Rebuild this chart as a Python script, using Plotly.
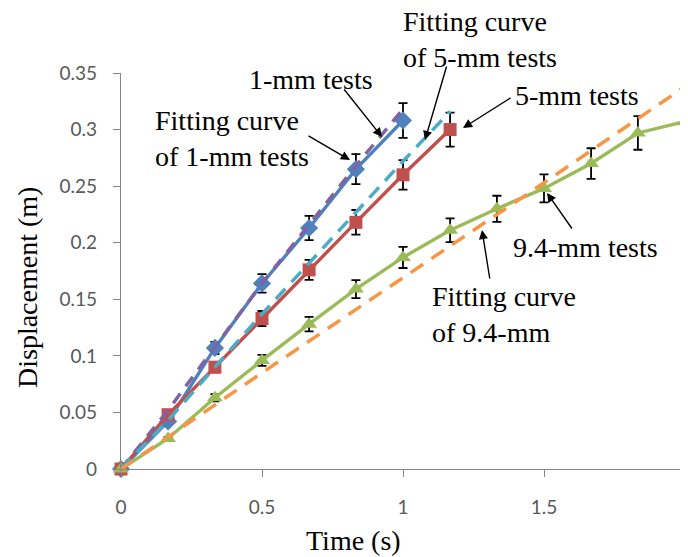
import plotly.graph_objects as go

# ---- data ----
t_1mm = [0, 0.167, 0.333, 0.5, 0.667, 0.833, 1.0]
d_1mm = [0, 0.042, 0.107, 0.164, 0.213, 0.265, 0.308]

t_5mm = [0, 0.167, 0.333, 0.5, 0.667, 0.833, 1.0, 1.167]
d_5mm = [0, 0.048, 0.090, 0.133, 0.176, 0.218, 0.260, 0.300]

t_94mm = [0, 0.167, 0.333, 0.5, 0.667, 0.833, 1.0, 1.167, 1.333, 1.5, 1.667, 1.833, 2.0]
d_94mm = [0, 0.027, 0.063, 0.096, 0.128, 0.159, 0.187, 0.211, 0.230, 0.248, 0.270, 0.297, 0.307]

fit_t_1mm = [0, 0.167, 0.333, 0.5, 0.667, 0.833, 1.0]
fit_d_1mm = [0, 0.052, 0.108, 0.164, 0.216, 0.268, 0.318]

fit_t_5mm = [0, 0.167, 0.333, 0.5, 0.667, 0.833, 1.0, 1.167]
fit_d_5mm = [0, 0.043, 0.090, 0.137, 0.182, 0.227, 0.272, 0.316]

fit_t_94mm = [0, 0.5, 1.0, 1.5, 2.0]
fit_d_94mm = [0, 0.085, 0.169, 0.253, 0.338]

err_percent = 5

x_ticks = [0, 0.5, 1, 1.5, 2]
x_tick_text = ["0", "0.5", "1", "1.5", "2"]
y_ticks = [0, 0.05, 0.1, 0.15, 0.2, 0.25, 0.3, 0.35]
y_tick_text = ["0", "0.05", "0.1", "0.15", "0.2", "0.25", "0.3", "0.35"]

BLUE, RED, GREEN = "#4F81BD", "#C0504D", "#9BBB59"
PURPLE, CYAN, ORANGE = "#8064A2", "#4BACC6", "#F79646"

err = dict(type="percent", value=err_percent, color="black", thickness=1.8, width=4.5)

fig = go.Figure()
fig.add_trace(go.Scatter(x=t_1mm, y=d_1mm, mode="lines+markers", name="1-mm tests",
                         line=dict(color=BLUE, width=3.4),
                         marker=dict(symbol="diamond", size=14, color=BLUE),
                         error_y=err, cliponaxis=False))
fig.add_trace(go.Scatter(x=t_5mm, y=d_5mm, mode="lines+markers", name="5-mm tests",
                         line=dict(color=RED, width=3.4),
                         marker=dict(symbol="square", size=13, color=RED),
                         error_y=err, cliponaxis=False))
fig.add_trace(go.Scatter(x=t_94mm, y=d_94mm, mode="lines+markers", name="9.4-mm tests",
                         line=dict(color=GREEN, width=3.4),
                         marker=dict(symbol="triangle-up", size=14, color=GREEN),
                         error_y=err, cliponaxis=False))
fig.add_trace(go.Scatter(x=fit_t_1mm, y=fit_d_1mm, mode="lines", name="Fit 1-mm",
                         line=dict(color=PURPLE, width=3.5, dash="12px,9px"), cliponaxis=False))
fig.add_trace(go.Scatter(x=fit_t_5mm, y=fit_d_5mm, mode="lines", name="Fit 5-mm",
                         line=dict(color=CYAN, width=3.5, dash="14px,9px"), cliponaxis=False))
fig.add_trace(go.Scatter(x=fit_t_94mm, y=fit_d_94mm, mode="lines", name="Fit 9.4-mm",
                         line=dict(color=ORANGE, width=3.5, dash="15px,10px"), cliponaxis=False))

# page has an 8px body margin; layout values below are in screenshot pixels
OFF = 8
WIN_W, WIN_H = 688, 557
W, H = WIN_W - OFF, WIN_H - OFF
L, R, T, B = 121, 685, 73, 469   # plot area in screenshot pixels


def xp(x):
    return (x - L) / (R - L)


def yp(y):
    return (B - y) / (B - T)


FONT = dict(family="Liberation Serif", size=28, color="black")

texts = [
    ("1-mm tests", 247, 80),
    ("Fitting curve<br>of 1-mm tests", 153, 138),
    ("Fitting curve<br>of 5-mm tests", 401, 39),
    ("5-mm tests", 513, 95),
    ("9.4-mm tests", 511, 247),
    ("Fitting curve<br>of 9.4-mm", 430, 314),
]
for txt, xl, yc in texts:
    fig.add_annotation(x=xp(xl), y=yp(yc), xref="paper", yref="paper", text=txt,
                       showarrow=False, xanchor="left", yanchor="middle", align="left",
                       font=FONT)

arrows = [
    ((343, 88), (382, 137)),
    ((307, 135), (350, 160)),
    ((447, 65), (425, 140)),
    ((512, 97), (463, 128)),
    ((573, 230), (547, 193)),
    ((490, 280), (482, 230)),
]
for (tx, ty), (hx, hy) in arrows:
    fig.add_annotation(x=xp(hx), y=yp(hy), xref="paper", yref="paper",
                       ax=tx - hx, ay=ty - hy, axref="pixel", ayref="pixel",
                       text="", showarrow=True, arrowhead=2, arrowsize=1.3,
                       arrowwidth=1.4, arrowcolor="black")

fig.add_annotation(x=xp(353), y=yp(540), xref="paper", yref="paper", text="Time (s)",
                   showarrow=False, xanchor="center", yanchor="middle",
                   font=dict(family="Liberation Serif", size=28, color="black"))
fig.add_annotation(x=xp(27), y=yp(288), xref="paper", yref="paper", text="Displacement (m)",
                   showarrow=False, textangle=-90, xanchor="center", yanchor="middle",
                   font=dict(family="Liberation Serif", size=28, color="black"))

axis_common = dict(showgrid=False, zeroline=False, showline=True, linecolor="#868686",
                   linewidth=1.3, ticks="outside", ticklen=7, tickcolor="#868686",
                   tickwidth=1.3, tickfont=dict(family="Lato", size=19, color="#595959"),
                   ticklabeloverflow="allow")

fig.update_xaxes(range=[0, 2], tickvals=x_ticks, ticktext=x_tick_text,
                 ticklabelstandoff=14, **axis_common)
fig.update_yaxes(range=[0, 0.35], tickvals=y_ticks, ticktext=y_tick_text,
                 ticklabelstandoff=12, **axis_common)

fig.update_layout(width=W, height=H, showlegend=False,
                  margin=dict(l=L - OFF, r=W - (R - OFF), t=T - OFF, b=H - (B - OFF),
                              autoexpand=False),
                  paper_bgcolor="white", plot_bgcolor="white")

fig.write_html("out.html")
